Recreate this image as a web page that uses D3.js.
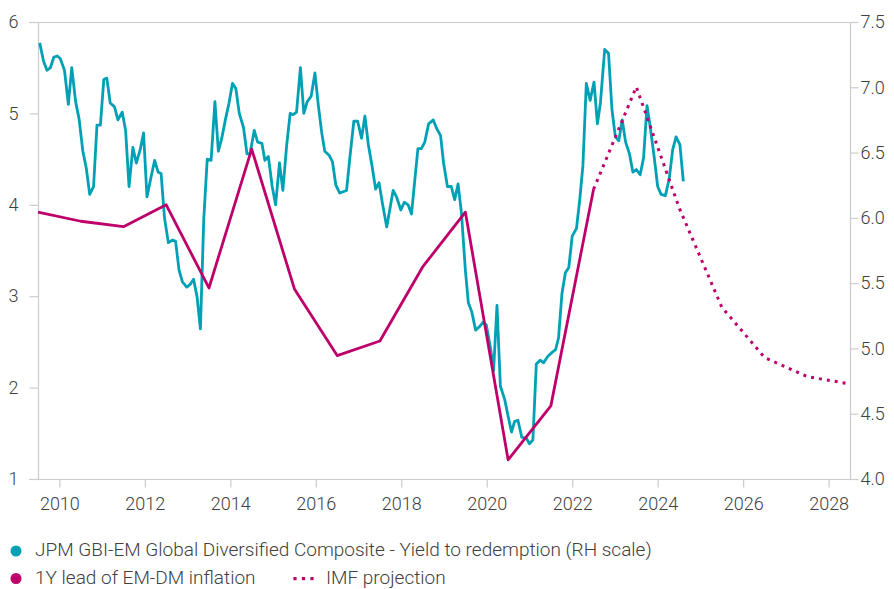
<!DOCTYPE html>
<html><head><meta charset="utf-8">
<script src="https://cdn.jsdelivr.net/npm/d3@7"></script>
<style>
html,body{margin:0;padding:0;background:#fff;}
svg{display:block;font-family:Roboto, "Noto Sans", sans-serif;font-weight:300;}
</style></head><body>
<svg id="chart" width="894" height="589"></svg>
<script>
// ---------- data ----------
const xTickYears = [2010, 2012, 2014, 2016, 2018, 2020, 2022, 2024, 2026, 2028];
const leftTicks = [1, 2, 3, 4, 5, 6];
const rightTicks = [4.0, 4.5, 5.0, 5.5, 6.0, 6.5, 7.0, 7.5];

// 1Y lead of EM-DM inflation (LH scale), mid-year points
const inflYears  = [2009.5, 2010.5, 2011.5, 2012.5, 2013.5, 2014.5, 2015.5, 2016.5, 2017.5, 2018.5, 2019.5, 2020.5, 2021.5, 2022.5];
const inflValues = [3.92, 3.82, 3.76, 4.00, 3.09, 4.61, 3.08, 2.35, 2.51, 3.32, 3.92, 1.21, 1.80, 4.17];

// IMF projection (LH scale)
const projYears  = [2022.5, 2023.5, 2024.5, 2025.5, 2026.5, 2027.5, 2028.5];
const projValues = [4.17, 5.29, 3.97, 2.88, 2.33, 2.12, 2.04];

// JPM GBI-EM GD yield to redemption (RH scale): [decimal year, yield]
const yieldSeries = [
 [2009.54,7.34],[2009.63,7.20],[2009.71,7.13],[2009.79,7.15],[2009.87,7.23],[2009.95,7.24],[2010.02,7.22],[2010.12,7.13],[2010.21,6.87],[2010.29,7.15],
 [2010.38,6.89],[2010.46,6.76],[2010.55,6.51],[2010.63,6.38],[2010.71,6.18],[2010.80,6.24],[2010.88,6.71],[2010.96,6.71],[2011.04,7.06],[2011.11,7.07],
 [2011.19,6.88],[2011.29,6.85],[2011.37,6.75],[2011.47,6.81],[2011.55,6.67],[2011.63,6.24],[2011.72,6.54],[2011.80,6.42],[2011.89,6.52],[2011.97,6.65],
 [2012.05,6.16],[2012.15,6.32],[2012.23,6.44],[2012.31,6.35],[2012.38,6.34],[2012.46,6.00],[2012.55,5.81],[2012.65,5.83],[2012.72,5.82],[2012.80,5.60],
 [2012.88,5.51],[2012.98,5.47],[2013.06,5.49],[2013.14,5.53],[2013.22,5.40],[2013.30,5.15],[2013.38,6.00],[2013.46,6.45],[2013.55,6.44],[2013.64,6.89],
 [2013.72,6.51],[2013.80,6.61],[2013.89,6.76],[2013.97,6.88],[2014.05,7.03],[2014.13,6.99],[2014.21,6.80],[2014.31,6.69],[2014.39,6.49],[2014.46,6.49],
 [2014.56,6.67],[2014.64,6.58],[2014.74,6.57],[2014.81,6.44],[2014.89,6.47],[2014.98,6.24],[2015.06,6.10],[2015.15,6.42],[2015.23,6.21],[2015.32,6.56],
 [2015.40,6.80],[2015.47,6.79],[2015.55,6.81],[2015.64,7.15],[2015.72,6.80],[2015.80,6.89],[2015.89,6.93],[2015.98,7.11],[2016.06,6.86],[2016.14,6.65],
 [2016.21,6.51],[2016.31,6.48],[2016.39,6.43],[2016.47,6.25],[2016.56,6.19],[2016.64,6.20],[2016.72,6.21],[2016.80,6.47],[2016.89,6.74],[2016.98,6.74],
 [2017.07,6.61],[2017.15,6.78],[2017.23,6.56],[2017.32,6.39],[2017.40,6.22],[2017.48,6.27],[2017.56,6.11],[2017.66,5.93],[2017.74,6.08],[2017.81,6.21],
 [2017.89,6.16],[2017.99,6.06],[2018.07,6.12],[2018.16,6.10],[2018.24,6.03],[2018.32,6.30],[2018.39,6.53],[2018.47,6.53],[2018.55,6.58],[2018.64,6.72],
 [2018.75,6.75],[2018.82,6.69],[2018.92,6.63],[2018.99,6.42],[2019.08,6.24],[2019.17,6.24],[2019.25,6.14],[2019.33,6.26],[2019.41,6.03],[2019.50,5.60],
 [2019.57,5.35],[2019.65,5.28],[2019.74,5.14],[2019.84,5.17],[2019.91,5.20],[2019.99,5.18],[2020.09,5.00],[2020.16,4.83],[2020.24,5.33],[2020.32,4.71],
 [2020.42,4.61],[2020.50,4.48],[2020.58,4.36],[2020.65,4.44],[2020.73,4.45],[2020.82,4.32],[2020.93,4.31],[2021.00,4.27],[2021.08,4.30],[2021.16,4.88],
 [2021.25,4.91],[2021.33,4.89],[2021.43,4.94],[2021.53,4.97],[2021.61,4.99],[2021.68,5.08],[2021.76,5.42],[2021.84,5.58],[2021.92,5.62],[2022.00,5.86],
 [2022.10,5.92],[2022.18,6.15],[2022.25,6.40],[2022.33,7.03],[2022.42,6.90],[2022.51,7.04],[2022.59,6.72],[2022.66,6.88],[2022.76,7.29],[2022.85,7.26],
 [2022.93,6.83],[2023.01,6.62],[2023.09,6.59],[2023.17,6.75],[2023.25,6.58],[2023.34,6.49],[2023.42,6.35],[2023.50,6.37],[2023.59,6.33],[2023.67,6.46],
 [2023.75,6.86],[2023.82,6.71],[2023.92,6.46],[2024.00,6.24],[2024.08,6.18],[2024.18,6.17],[2024.27,6.30],[2024.35,6.52],[2024.43,6.62],[2024.52,6.56],
 [2024.60,6.28]
];

const legendRow1 = "JPM GBI-EM Global Diversified Composite - Yield to redemption (RH scale)";
const legendRow2a = "1Y lead of EM-DM inflation";
const legendRow2b = "IMF projection";

// ---------- styling ----------
const TEAL = "#00A1B5";
const MAGENTA = "#BE006B";
const GRID = "#cccccc";
const TEXT = "#404040";

const svg = d3.select("#chart");
const L = 38, R = 850, T = 22, B = 479;

const x = d3.scaleLinear().domain([2009.5, 2028.5]).range([L, R]);
const yL = d3.scaleLinear().domain([1, 6]).range([B, T]);
const yR = d3.scaleLinear().domain([4, 7.5]).range([B, T]);

// frame lines
const frame = svg.append("g").attr("stroke", GRID).attr("stroke-width", 1.2).attr("fill", "none");
frame.append("line").attr("x1", 29).attr("x2", 858).attr("y1", T + 0.5).attr("y2", T + 0.5);
frame.append("line").attr("x1", 29).attr("x2", 858).attr("y1", B + 0.5).attr("y2", B + 0.5);
frame.append("line").attr("x1", L + 0.5).attr("x2", L + 0.5).attr("y1", T).attr("y2", B);
frame.append("line").attr("x1", R + 0.5).attr("x2", R + 0.5).attr("y1", T).attr("y2", B);

function styleAxis(g) {
  g.select(".domain").remove();
  g.selectAll(".tick line").attr("stroke", GRID).attr("stroke-width", 1.2);
  g.selectAll(".tick text").attr("fill", TEXT).style("font-size", "18px")
    .style("font-family", "Roboto, sans-serif").style("font-weight", 300);
}

svg.append("g").attr("transform", `translate(${L + 0.5},0)`)
  .call(d3.axisLeft(yL).tickValues(leftTicks).tickSize(9).tickPadding(11).tickFormat(d3.format("d")))
  .call(styleAxis);

svg.append("g").attr("transform", `translate(${R + 0.5},0)`)
  .call(d3.axisRight(yR).tickValues(rightTicks).tickSize(8).tickPadding(2).tickFormat(d3.format(".1f")))
  .call(styleAxis);

svg.append("g").attr("transform", `translate(0,${B + 0.5})`)
  .call(d3.axisBottom(x).tickValues(xTickYears).tickSize(8).tickPadding(10).tickFormat(d3.format("d")))
  .call(styleAxis);

// lines
const inflData = inflYears.map((yr, i) => [yr, inflValues[i]]);
const projData = projYears.map((yr, i) => [yr, projValues[i]]);

const lineL = d3.line().x(d => x(d[0])).y(d => yL(d[1]));
const lineR = d3.line().x(d => x(d[0])).y(d => yR(d[1]));

svg.append("path").datum(yieldSeries).attr("d", lineR)
  .attr("fill", "none").attr("stroke", TEAL).attr("stroke-width", 2.8).attr("stroke-linejoin", "round");

svg.append("path").datum(inflData).attr("d", lineL)
  .attr("fill", "none").attr("stroke", MAGENTA).attr("stroke-width", 2.8).attr("stroke-linejoin", "round");

svg.append("path").datum(projData).attr("d", lineL)
  .attr("fill", "none").attr("stroke", MAGENTA).attr("stroke-width", 3)
  .attr("stroke-dasharray", "3,5");

// legend
const lg = svg.append("g").style("font-size", "19px").attr("fill", TEXT);
lg.append("circle").attr("cx", 16).attr("cy", 551).attr("r", 5.5).attr("fill", TEAL);
lg.append("text").attr("x", 35).attr("y", 556).text(legendRow1);
lg.append("circle").attr("cx", 16).attr("cy", 578.5).attr("r", 5.5).attr("fill", MAGENTA);
lg.append("text").attr("x", 35).attr("y", 584).text(legendRow2a);
[295, 303.5, 312].forEach(cx => {
  lg.append("rect").attr("x", cx - 1.6).attr("y", 577).attr("width", 3.2).attr("height", 3.2).attr("fill", MAGENTA);
});
lg.append("text").attr("x", 326).attr("y", 584).text(legendRow2b);
</script>
</body></html>
